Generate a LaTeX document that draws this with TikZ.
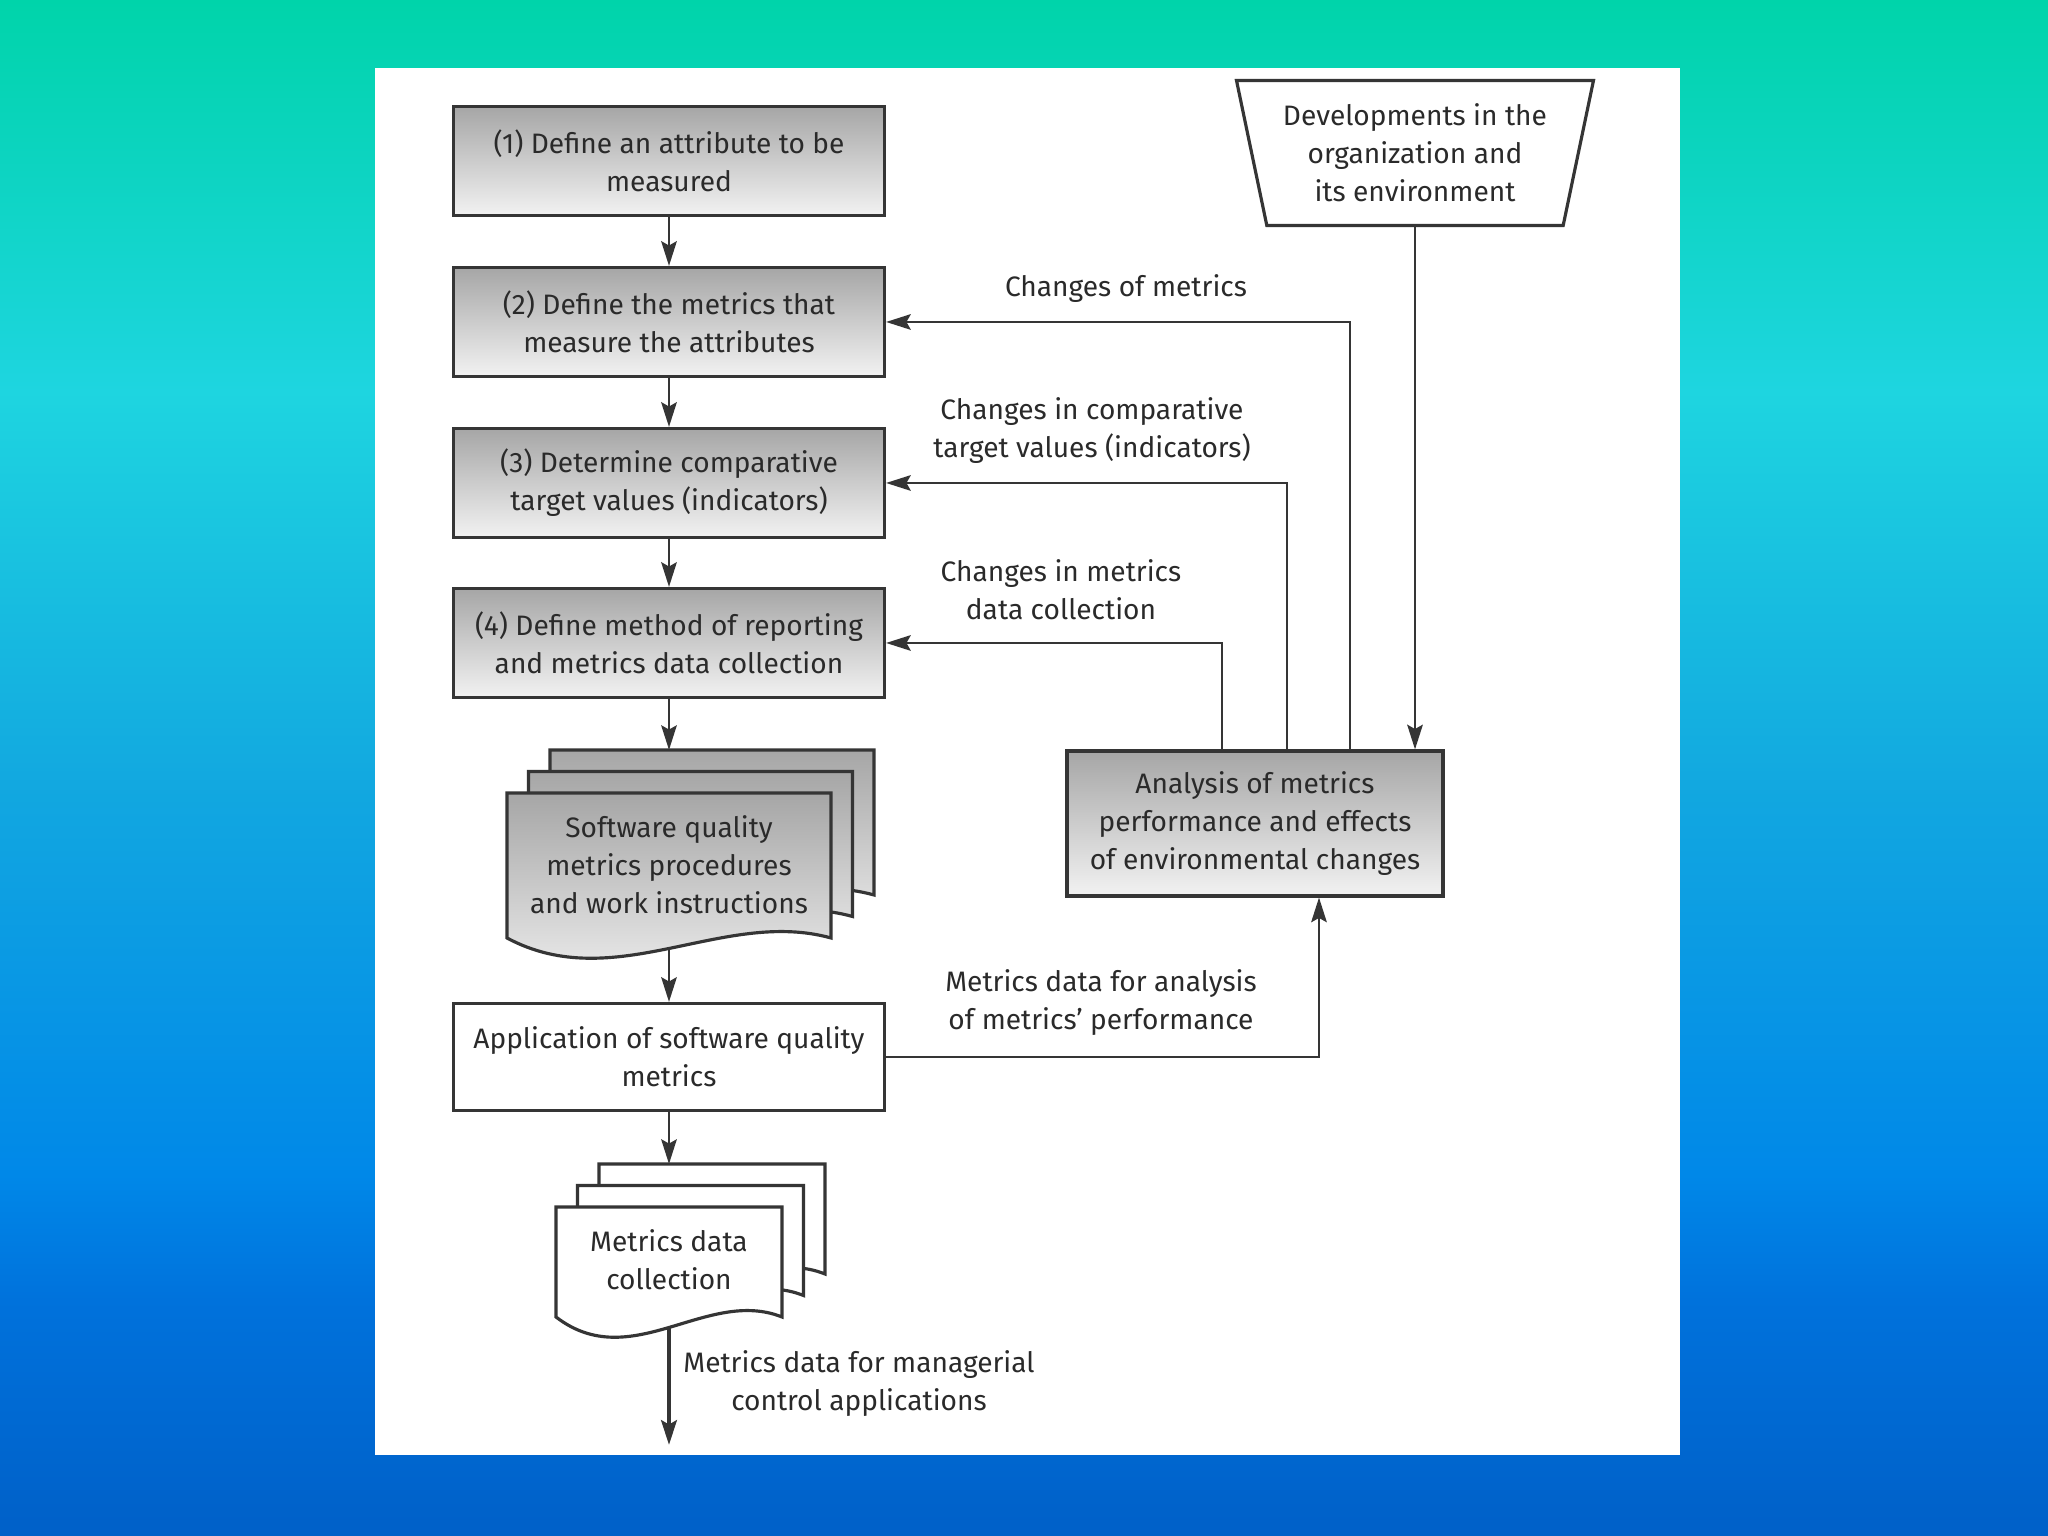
\documentclass[tikz,border=0pt]{standalone}
\usepackage{fontspec}
\setmainfont{Fira Sans}
\usetikzlibrary{shapes.geometric,arrows.meta,calc}
\definecolor{borde}{HTML}{353535}
\definecolor{texto}{HTML}{2a2a2a}
\definecolor{grisoscuro}{HTML}{a6a6a6}
\definecolor{grisclaro}{HTML}{f2f2f2}
\definecolor{verdeagua}{HTML}{00d4aa}
\definecolor{celeste}{HTML}{1ed5e0}
\definecolor{turquesa}{HTML}{12a8e0}
\definecolor{azulclaro}{HTML}{0088e8}
\definecolor{azulmedio}{HTML}{0072dc}
\definecolor{azul}{HTML}{0060c8}

\newcommand{\letra}{\fontsize{8}{10.8}\selectfont}

% hoja con borde inferior ondulado: x, y (arriba izq.), ancho, alto, estilo
\newcommand{\hoja}[5]{%
  \pgfmathsetmacro{\xd}{#1+#3}
  \pgfmathsetmacro{\yb}{#2-#4}
  \pgfmathsetmacro{\xa}{#1+#3*2/3}
  \pgfmathsetmacro{\xb}{#1+#3/3}
  \pgfmathsetmacro{\ya}{\yb+0.3}
  \pgfmathsetmacro{\yc}{\yb-0.58}
  \path[#5] (#1,#2) -- (\xd,#2) -- (\xd,\yb) .. controls (\xa,\ya) and (\xb,\yc) .. (#1,\yb) -- cycle;
}

\tikzset{
  caja/.style={draw=borde, line width=0.9pt, minimum width=4.31cm, minimum height=1.09cm,
    align=center, text=texto},
  gris/.style={top color=grisoscuro, bottom color=grisclaro},
  etiqueta/.style={align=center, text=texto},
  flecha/.style={draw=borde, line width=0.8pt, -{Stealth[length=7pt,width=4.4pt,inset=1.2pt]}},
}

\begin{document}
\begin{tikzpicture}[font=\letra]

  \useasboundingbox (0,0) rectangle (20.48,15.36);

  % fondo
  \shade[bottom color=azul, top color=azulmedio] (0,0) rectangle (20.48,2.37);
  \shade[bottom color=azulmedio, top color=azulclaro] (0,2.36) rectangle (20.48,3.61);
  \shade[bottom color=azulclaro, top color=turquesa] (0,3.60) rectangle (20.48,7.53);
  \shade[bottom color=turquesa, top color=celeste] (0,7.52) rectangle (20.48,11.45);
  \shade[bottom color=celeste, top color=verdeagua] (0,11.44) rectangle (20.48,15.36);
  \fill[white] (3.75,0.81) rectangle (16.80,14.68);

  % columna izquierda
  \node[caja,gris] (paso1) at (6.69,13.75) {(1) Define an attribute to be\\measured};
  \node[caja,gris] (paso2) at (6.69,12.14) {(2) Define the metrics that\\measure the attributes};
  \node[caja,gris] (paso3) at (6.69,10.53) {(3) Determine comparative\\target values (indicators)};
  \node[caja,gris] (paso4) at (6.69,8.93) {(4) Define method of reporting\\and metrics data collection};

  \hoja{5.50}{7.86}{3.24}{1.45}{draw=borde, line width=0.9pt, gris}
  \hoja{5.285}{7.645}{3.24}{1.45}{draw=borde, line width=0.9pt, gris}
  \hoja{5.07}{7.43}{3.24}{1.45}{draw=borde, line width=0.9pt, gris}
  \node[etiqueta] (proc) at (6.69,6.71) {Software quality\\metrics procedures\\and work instructions};
  \coordinate (procin) at (6.69,7.86);
  \coordinate (procout) at (6.69,5.875);

  \node[caja,minimum height=1.07cm,fill=white] (aplic) at (6.69,4.79) {Application of software quality\\metrics};

  \hoja{5.99}{3.72}{2.26}{1.10}{draw=borde, line width=0.9pt, fill=white}
  \hoja{5.775}{3.505}{2.26}{1.10}{draw=borde, line width=0.9pt, fill=white}
  \hoja{5.56}{3.29}{2.26}{1.10}{draw=borde, line width=0.9pt, fill=white}
  \node[etiqueta] (datos) at (6.69,2.76) {Metrics data\\collection};
  \coordinate (datosin) at (6.69,3.72);
  \coordinate (datosout) at (6.69,2.085);
  \coordinate (salida) at (6.69,0.91);

  % lado derecho
  \node[trapezium, shape border rotate=180, trapezium angle=76, trapezium stretches body,
    draw=borde, line width=0.9pt, fill=white, text=texto, align=center,
    minimum width=3.57cm, minimum height=1.45cm] (entorno) at (14.15,13.83)
    {Developments in the\\organization and\\its environment};
  \node[caja,gris,minimum width=3.76cm,minimum height=1.45cm] (analisis) at (12.55,7.125)
    {Analysis of metrics\\performance and effects\\of environmental changes};

  % flechas
  \draw[flecha] (paso1) -- (paso2);
  \draw[flecha] (paso2) -- (paso3);
  \draw[flecha] (paso3) -- (paso4);
  \draw[flecha] (paso4) -- (procin);
  \draw[flecha] (procout) -- (aplic);
  \draw[flecha] (aplic) -- (datosin);
  \draw[flecha, line width=1.3pt] (datosout) -- (salida);

  \draw[flecha] (entorno.south) -- (entorno.south |- analisis.north);
  \draw[flecha] ([xshift=0.95cm]analisis.north) |- (paso2.east);
  \draw[flecha] ([xshift=0.32cm]analisis.north) |- (paso3.east);
  \draw[flecha] ([xshift=-0.33cm]analisis.north) |- (paso4.east);
  \draw[flecha] (aplic.east) -| ([xshift=0.64cm]analisis.south);

  \node[etiqueta] (cambio1) at (11.26,12.47) {Changes of metrics};
  \node[etiqueta] (cambio2) at (10.92,11.05) {Changes in comparative\\target values (indicators)};
  \node[etiqueta] (cambio3) at (10.61,9.46) {Changes in metrics\\data collection};
  \node[etiqueta] (analdat) at (11.01,5.33) {Metrics data for analysis\\of metrics’ performance};
  \node[etiqueta] (gestion) at (8.59,1.52) {Metrics data for managerial\\control applications};

\end{tikzpicture}
\end{document}
